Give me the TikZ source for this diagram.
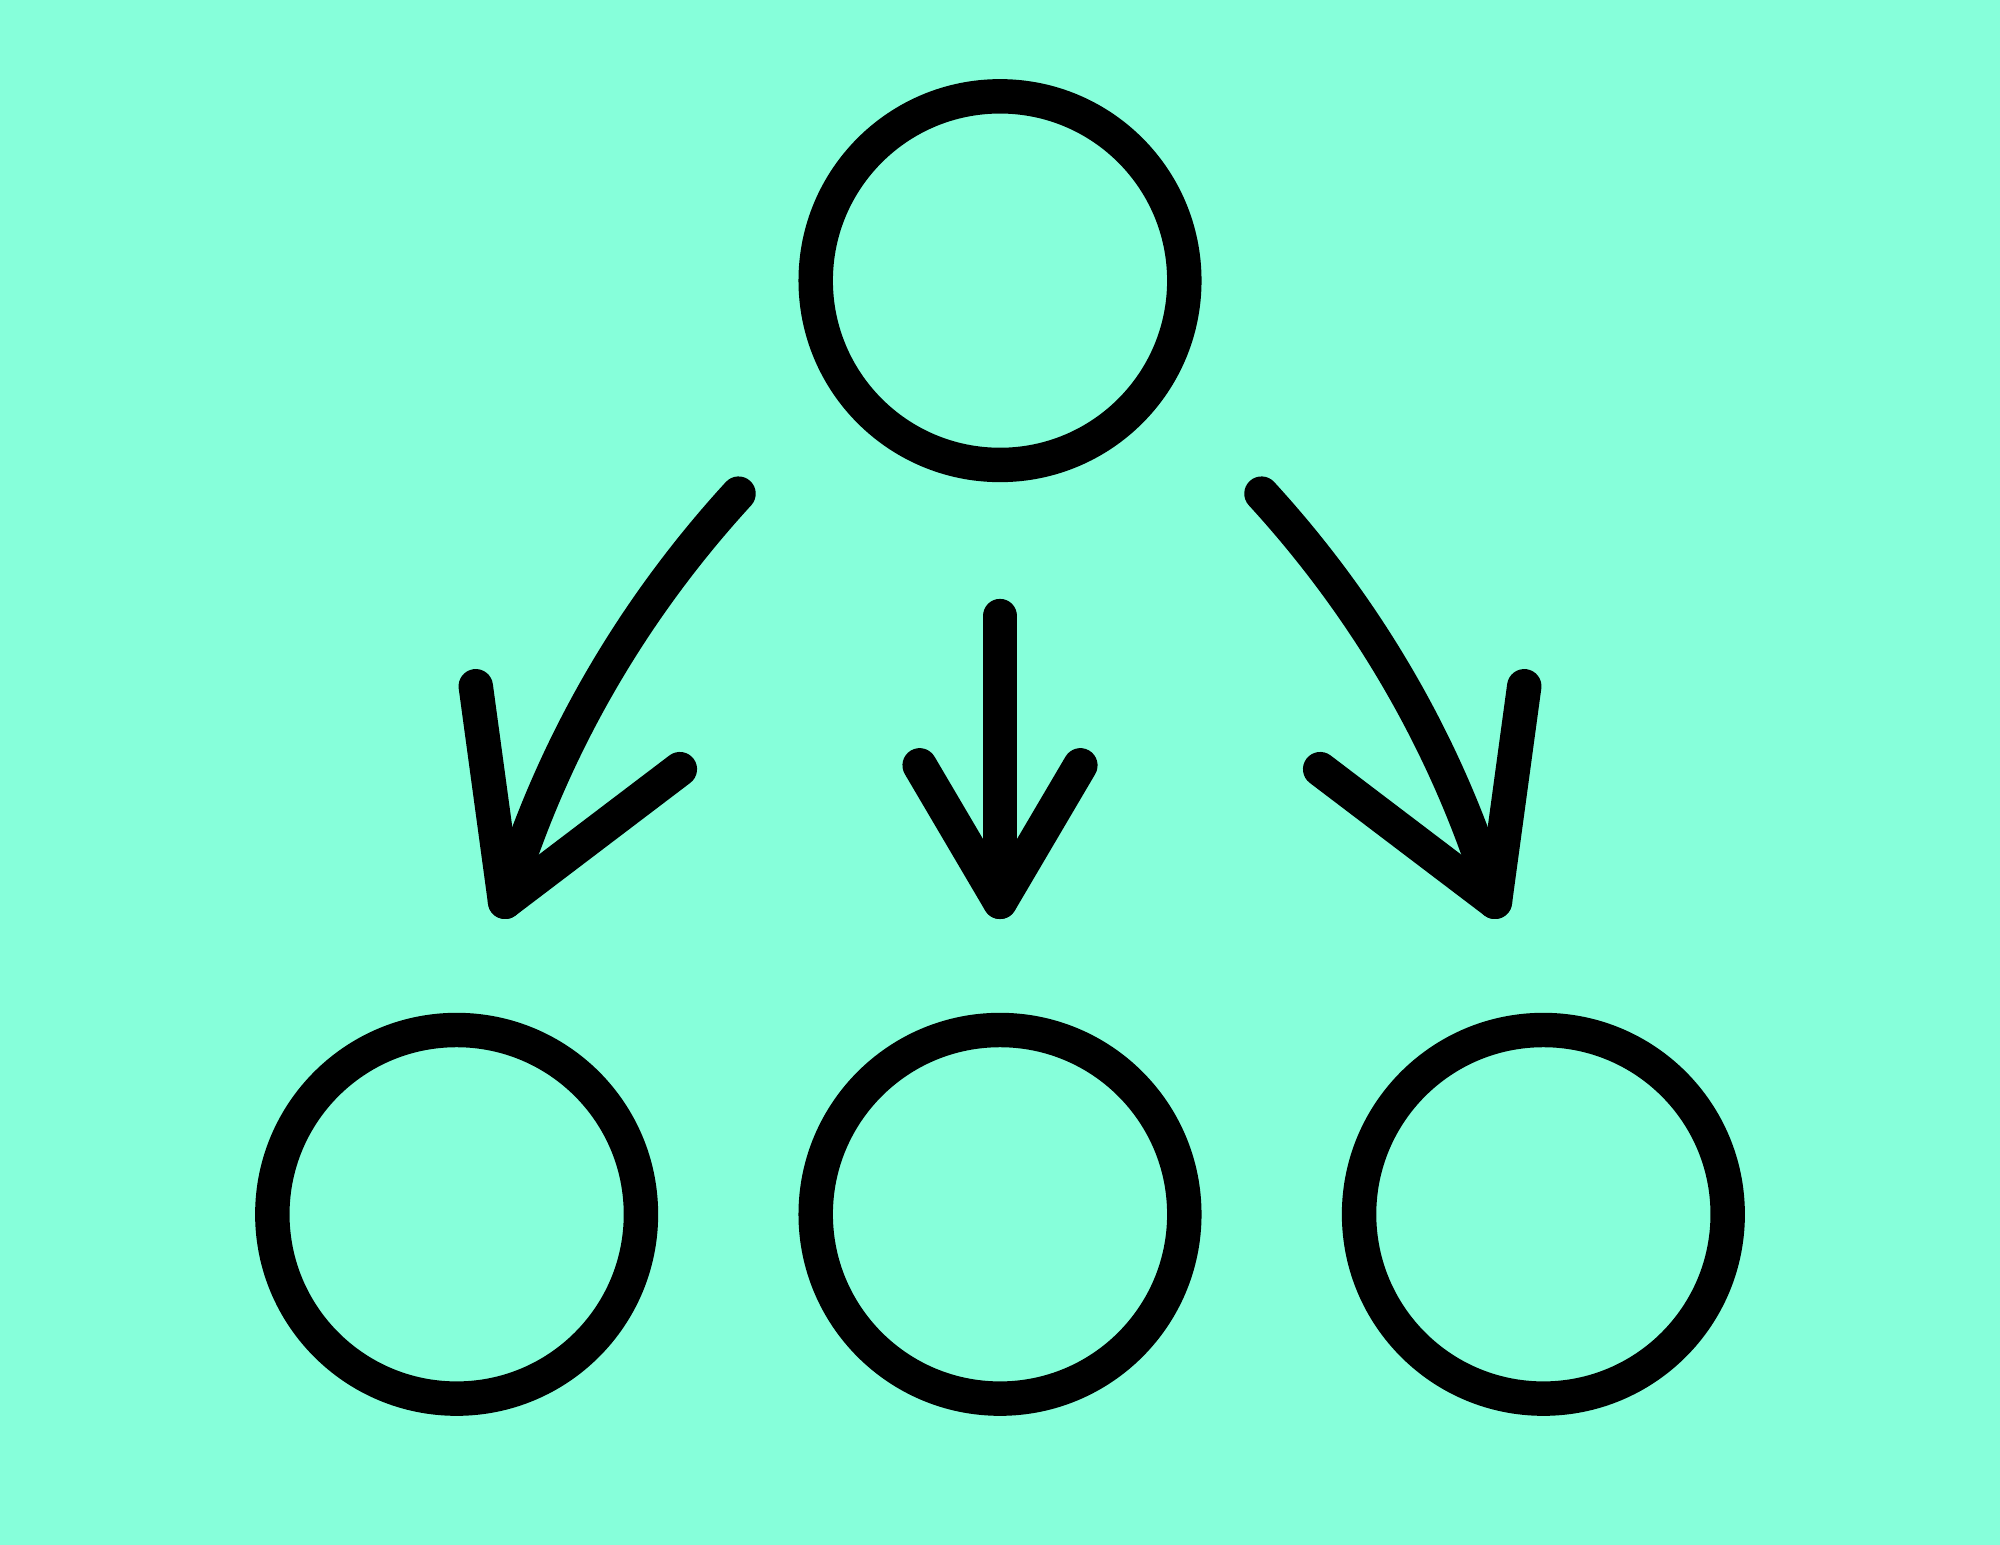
\documentclass[tikz,border=0pt]{standalone}
\definecolor{bg}{RGB}{134,255,218}
\begin{document}
\begin{tikzpicture}[x=0.012755cm,y=-0.012755cm,
  ring/.style={circle,draw=black,line width=9.8pt,minimum size=289*0.012755cm,inner sep=0pt},
  stroke/.style={draw=black,line width=9.8pt,line cap=round,line join=round}]
\fill[bg] (0,0) rectangle (1568,1211);
\useasboundingbox (0,0) rectangle (1568,1211);
\node[ring] (top) at (784,220) {};
\node[ring] (bl) at (358,952) {};
\node[ring] (bm) at (784,952) {};
\node[ring] (br) at (1210,952) {};
% left arrow
\coordinate (ls) at (579,387);
\coordinate (le) at (396,707);
\coordinate (lh1) at (373,538);
\coordinate (lh2) at (533,603);
\draw[stroke] (ls) .. controls (480,495) and (425,610) .. (le);
\draw[stroke] (lh1) -- (le) -- (lh2);
% middle arrow
\coordinate (ms) at (784,483);
\coordinate (me) at (784,707);
\coordinate (mh1) at (721,600);
\coordinate (mh2) at (847,600);
\draw[stroke] (ms) -- (me);
\draw[stroke] (mh1) -- (me) -- (mh2);
% right arrow
\coordinate (rs) at (989,387);
\coordinate (re) at (1172,707);
\coordinate (rh1) at (1195,538);
\coordinate (rh2) at (1035,603);
\draw[stroke] (rs) .. controls (1088,495) and (1143,610) .. (re);
\draw[stroke] (rh1) -- (re) -- (rh2);
\end{tikzpicture}
\end{document}
